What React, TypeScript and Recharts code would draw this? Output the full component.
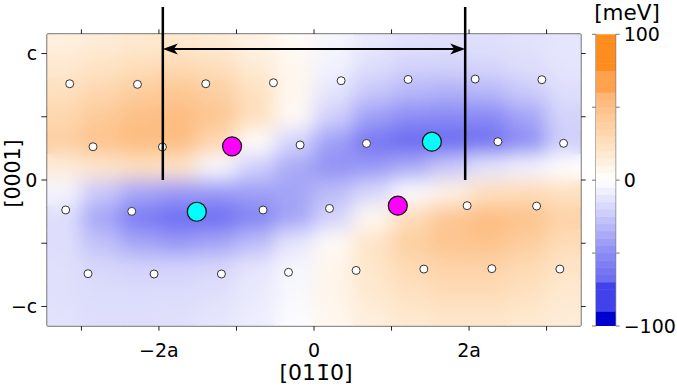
import { ComposedChart, Scatter, XAxis, YAxis, ReferenceLine, Label } from 'recharts'

// heat map grid (cell centres in units of a / c) and energy values [meV]
const HEAT_X = [-3.25, -2.75, -2.25, -1.75, -1.25, -0.75, -0.25, 0.25, 0.75, 1.25, 1.75, 2.25, 2.75, 3.25]
const HEAT_Y = [1.1, 0.9, 0.7, 0.5, 0.3, 0.1, -0.1, -0.3, -0.5, -0.7, -0.9, -1.1]
const HEAT_V = [
   [12, 15, 18, 18, 15, 10, 4, -4, -10, -13, -14, -14, -13, -12],
   [18, 22, 26, 30, 26, 16, 6, -6, -15, -20, -20, -18, -15, -12],
   [25, 32, 40, 44, 38, 24, 6, -12, -25, -32, -35, -32, -24, -15],
   [32, 42, 50, 52, 45, 26, 4, -22, -42, -50, -52, -52, -40, -20],
   [38, 48, 52, 52, 32, 2, -20, -42, -62, -70, -70, -66, -50, -22],
   [15, 20, 25, 22, -3, -22, -38, -48, -45, -38, -25, -12, -6, 0],
   [-5, -25, -40, -45, -45, -42, -40, -30, -18, -2, 10, 25, 28, 25],
   [-15, -40, -60, -68, -68, -55, -40, -20, 5, 28, 45, 52, 48, 35],
   [-15, -28, -40, -45, -40, -30, -12, 3, 22, 38, 46, 48, 40, 28],
   [-14, -18, -20, -20, -18, -12, -4, 8, 20, 30, 35, 35, 30, 22],
   [-14, -16, -16, -16, -14, -10, -3, 8, 18, 24, 28, 28, 24, 18],
   [-13, -15, -15, -14, -12, -8, -2, 6, 14, 18, 20, 20, 18, 15],
]

const ATOMS = [
   { x: -3.151, y: 0.761 }, { x: -2.277, y: 0.756 }, { x: -1.396, y: 0.761 }, { x: -0.523, y: 0.769 },
   { x: 0.35, y: 0.785 }, { x: 1.214, y: 0.795 }, { x: 2.079, y: 0.798 }, { x: 2.939, y: 0.793 },
   { x: -2.85, y: 0.263 }, { x: -1.955, y: 0.261 }, { x: -0.179, y: 0.277 }, { x: 0.677, y: 0.289 },
   { x: 2.372, y: 0.303 }, { x: 3.219, y: 0.29 },
   { x: -3.203, y: -0.237 }, { x: -2.351, y: -0.248 }, { x: -0.657, y: -0.237 }, { x: 0.2, y: -0.225 },
   { x: 1.975, y: -0.203 }, { x: 2.871, y: -0.206 },
   { x: -2.915, y: -0.741 }, { x: -2.063, y: -0.743 }, { x: -1.194, y: -0.743 }, { x: -0.329, y: -0.73 },
   { x: 0.543, y: -0.715 }, { x: 1.417, y: -0.704 }, { x: 2.294, y: -0.701 }, { x: 3.171, y: -0.704 },
]
const MAGENTA = [{ x: -1.057, y: 0.266 }, { x: 1.081, y: -0.203 }]
const CYAN = [{ x: 1.52, y: 0.303 }, { x: -1.512, y: -0.251 }]

const X_TICKS = [-3, -2, -1, 0, 1, 2, 3]
const X_LABELS: Record<string, string> = { '-2': '−2a', '0': '0', '2': '2a' }
const Y_TICKS = [-1, -0.5, 0, 0.5, 1]
const Y_LABELS: Record<string, string> = { '1': 'c', '0': '0', '-1': '−c' }
const CBAR_TICKS = [-100, -50, 0, 50, 100]
const CBAR_LABELS: Record<string, string> = { '100': '100', '0': '0', '-100': '−100' }
const CBAR_STEP = 5
const CBAR_CELLS = Array.from({ length: 40 }, (_, i) => ({ x: 0.5, y: -100 + CBAR_STEP * (i + 0.5) }))

const MARKER_X = [-1.95, 1.95]
const ARROW_Y = 1.036
const LINE_TOP = 1.368

const X_DOMAIN = [-3.44, 3.44]
const Y_DOMAIN = [-1.152, 1.152]
const FONT = 'DejaVu Sans, sans-serif'
const CELL_W = 39.5
const CELL_H = 26
const MARGIN = { top: 29.3, right: 91.3, bottom: 30.3, left: 7.3 }

const POS = [[0, 255, 255, 255], [0.25, 254, 224, 190], [0.5, 253, 192, 135], [0.61, 255, 176, 108]]
const NEG = [[0, 255, 255, 255], [0.25, 200, 200, 250], [0.5, 140, 140, 245], [0.72, 102, 102, 242]]

function heatColor(v: number) {
   const t = v / 100
   if (t >= 0.76) return 'rgb(255,140,30)'
   if (t >= 0.61) return 'rgb(255,162,78)'
   if (t <= -0.89) return 'rgb(0,0,204)'
   if (t <= -0.72) return 'rgb(66,66,235)'
   const stops = t >= 0 ? POS : NEG
   const a = Math.abs(t)
   for (let i = 1; i < stops.length; i++) {
      const [s0, ...c0] = stops[i - 1]
      const [s1, ...c1] = stops[i]
      if (a <= s1) {
         const f = (a - s0) / (s1 - s0)
         const c = c0.map((ch, k) => Math.round(ch + (c1[k] - ch) * f))
         return `rgb(${c.join(',')})`
      }
   }
   const last = stops[stops.length - 1]
   return `rgb(${last.slice(1).join(',')})`
}

const heatCells = HEAT_Y.flatMap((y, i) => HEAT_X.map((x, j) => ({ x, y, v: HEAT_V[i][j] })))

const CellShape = (p: any) => (
   <rect x={p.cx - CELL_W / 2} y={p.cy - CELL_H / 2} width={CELL_W} height={CELL_H} fill={heatColor(p.payload.v)} />
)
const CbarShape = (p: any) => (
   <rect x={p.cx - 9.85} y={p.cy - 3.9} width={19.7} height={7.8} fill={heatColor(p.payload.y)} />
)
const AtomShape = (p: any) => <circle cx={p.cx} cy={p.cy} r={4} fill="#fff" stroke="#333" strokeWidth={1} />
const BigDot = (fill: string) => (p: any) => (
   <circle cx={p.cx} cy={p.cy} r={9.5} fill={fill} stroke="#111" strokeWidth={1.2} />
)
const NoShape = () => <g />

const ArrowShape = (p: any) => {
   const { x1, y1, x2, y2 } = p
   const head = 15
   const half = 5.5
   return (
      <g>
         <line x1={x1 + head - 4} y1={y1} x2={x2 - head + 4} y2={y2} stroke="#000" strokeWidth={2} />
         <polygon points={`${x1},${y1} ${x1 + head},${y1 - half} ${x1 + head - 4},${y1} ${x1 + head},${y1 + half}`} fill="#000" />
         <polygon points={`${x2},${y2} ${x2 - head},${y2 - half} ${x2 - head + 4},${y2} ${x2 - head},${y2 + half}`} fill="#000" />
      </g>
   )
}

const tickStyle = { fill: '#000', fontSize: 19, fontFamily: FONT }

export default function App() {
   return (
      <div style={{ position: 'relative', width: 677, height: 386, background: '#fff' }}>
         <style>{`body{margin:0} .heat-sharp{clip-path:url(#plotClip)} .heat-blur{filter:url(#heatBlur);clip-path:url(#plotClip)}`}</style>
         <svg width={0} height={0} style={{ position: 'absolute' }}>
            <defs>
               <filter id="heatBlur" x="-10%" y="-10%" width="120%" height="120%">
                  <feGaussianBlur stdDeviation={10} />
               </filter>
               <clipPath id="plotClip">
                  <rect x={47.3} y={34.3} width={533.4} height={291.4} />
               </clipPath>
            </defs>
         </svg>

         {/* main plot: heat map, atoms and frame */}
         <div style={{ position: 'absolute', left: 0, top: 0 }}>
            <ComposedChart width={677} height={386} margin={MARGIN}>
               <XAxis
                  xAxisId="b"
                  type="number"
                  dataKey="x"
                  domain={X_DOMAIN}
                  allowDataOverflow
                  ticks={X_TICKS}
                  tickFormatter={(v) => X_LABELS[String(v)] ?? ''}
                  height={30}
                  tickSize={5}
                  tickMargin={13}
                  tick={tickStyle}
                  stroke="#222"
                  axisLine={{ stroke: '#222', strokeWidth: 1.5 }}
               >
                  <Label
                     content={() => (
                        <text x={316} y={380} textAnchor="middle" fontSize={22} fontFamily={FONT} fill="#000">
                           [011̄0]
                        </text>
                     )}
                  />
               </XAxis>
               <XAxis
                  xAxisId="t"
                  orientation="top"
                  type="number"
                  dataKey="x"
                  domain={X_DOMAIN}
                  allowDataOverflow
                  ticks={X_TICKS}
                  tickFormatter={() => ''}
                  height={5}
                  tickSize={5}
                  stroke="#222"
                  axisLine={{ stroke: '#222', strokeWidth: 1.5 }}
               />
               <YAxis
                  yAxisId="l"
                  type="number"
                  dataKey="y"
                  domain={Y_DOMAIN}
                  allowDataOverflow
                  ticks={Y_TICKS}
                  tickFormatter={(v) => Y_LABELS[String(v)] ?? ''}
                  width={40}
                  tickSize={6}
                  tickMargin={4}
                  tick={tickStyle}
                  stroke="#222"
                  axisLine={{ stroke: '#222', strokeWidth: 1.5 }}
               >
                  <Label
                     content={() => (
                        <text
                           x={0}
                           y={0}
                           transform="translate(19.5,173.5) rotate(-90)"
                           textAnchor="middle"
                           fontSize={20.5}
                           fontFamily={FONT}
                           fill="#000"
                        >
                           [0001]
                        </text>
                     )}
                  />
               </YAxis>
               <YAxis
                  yAxisId="r"
                  orientation="right"
                  type="number"
                  dataKey="y"
                  domain={Y_DOMAIN}
                  allowDataOverflow
                  ticks={Y_TICKS}
                  tickFormatter={() => ''}
                  width={5}
                  tickSize={5}
                  stroke="#222"
                  axisLine={{ stroke: '#222', strokeWidth: 1.5 }}
               />

               <Scatter xAxisId="b" yAxisId="l" className="heat-sharp" data={heatCells} shape={CellShape} isAnimationActive={false} />
               <Scatter xAxisId="b" yAxisId="l" className="heat-blur" data={heatCells} shape={CellShape} isAnimationActive={false} />
               <Scatter xAxisId="b" yAxisId="l" data={ATOMS} shape={AtomShape} isAnimationActive={false} />
               <Scatter xAxisId="b" yAxisId="l" data={MAGENTA} shape={BigDot('#ff00ff')} isAnimationActive={false} />
               <Scatter xAxisId="b" yAxisId="l" data={CYAN} shape={BigDot('#00ffff')} isAnimationActive={false} />
            </ComposedChart>
         </div>

         {/* overlay with the same plot area: the marker lines and the arrow drawn on top */}
         <div style={{ position: 'absolute', left: 0, top: 0 }}>
            <ComposedChart width={677} height={386} margin={MARGIN}>
               <XAxis xAxisId="b" type="number" dataKey="x" domain={X_DOMAIN} allowDataOverflow height={30} tick={false} tickLine={false} axisLine={false} />
               <XAxis xAxisId="t" orientation="top" type="number" dataKey="x" domain={X_DOMAIN} allowDataOverflow height={5} tick={false} tickLine={false} axisLine={false} />
               <YAxis yAxisId="l" type="number" dataKey="y" domain={Y_DOMAIN} allowDataOverflow width={40} tick={false} tickLine={false} axisLine={false} />
               <YAxis yAxisId="r" orientation="right" type="number" dataKey="y" domain={Y_DOMAIN} allowDataOverflow width={5} tick={false} tickLine={false} axisLine={false} />
               <Scatter xAxisId="b" yAxisId="l" data={MAGENTA} shape={NoShape} isAnimationActive={false} />
               {MARKER_X.map((x) => (
                  <ReferenceLine
                     key={x}
                     xAxisId="b"
                     yAxisId="l"
                     segment={[{ x, y: 0 }, { x, y: LINE_TOP }]}
                     ifOverflow="visible"
                     stroke="#000"
                     strokeWidth={2.5}
                  />
               ))}
               <ReferenceLine
                  xAxisId="b"
                  yAxisId="l"
                  segment={[{ x: MARKER_X[0], y: ARROW_Y }, { x: MARKER_X[1], y: ARROW_Y }]}
                  ifOverflow="visible"
                  shape={ArrowShape}
               />
            </ComposedChart>
         </div>

         {/* colour bar */}
         <div style={{ position: 'absolute', left: 0, top: 0 }}>
            <ComposedChart width={677} height={386} margin={{ top: 34.3, right: 0, bottom: 60, left: 590 }}>
               <XAxis xAxisId="cb" type="number" dataKey="x" domain={[0, 1]} allowDataOverflow height={0} tick={false} tickLine={false} axisLine={{ stroke: '#666' }} />
               <XAxis xAxisId="ct" orientation="top" type="number" dataKey="x" domain={[0, 1]} allowDataOverflow height={0} tick={false} tickLine={false} axisLine={{ stroke: '#666' }} />
               <YAxis
                  yAxisId="cl"
                  type="number"
                  dataKey="y"
                  domain={[-100, 100]}
                  allowDataOverflow
                  ticks={CBAR_TICKS}
                  tickFormatter={() => ''}
                  width={6}
                  tickSize={4}
                  axisLine={{ stroke: '#666' }}
                  stroke="#777"
               />
               <YAxis
                  yAxisId="cr"
                  orientation="right"
                  type="number"
                  dataKey="y"
                  domain={[-100, 100]}
                  allowDataOverflow
                  ticks={CBAR_TICKS}
                  tickFormatter={(v) => CBAR_LABELS[String(v)] ?? ''}
                  width={61.3}
                  tickSize={4}
                  tickMargin={4}
                  tick={tickStyle}
                  axisLine={{ stroke: '#666' }}
                  stroke="#777"
               >
                  <Label
                     content={() => (
                        <text x={627} y={20} textAnchor="middle" fontSize={21.5} fontFamily={FONT} fill="#000">
                           [meV]
                        </text>
                     )}
                  />
               </YAxis>
               <Scatter xAxisId="cb" yAxisId="cr" data={CBAR_CELLS} shape={CbarShape} isAnimationActive={false} />
            </ComposedChart>
         </div>
      </div>
   )
}
